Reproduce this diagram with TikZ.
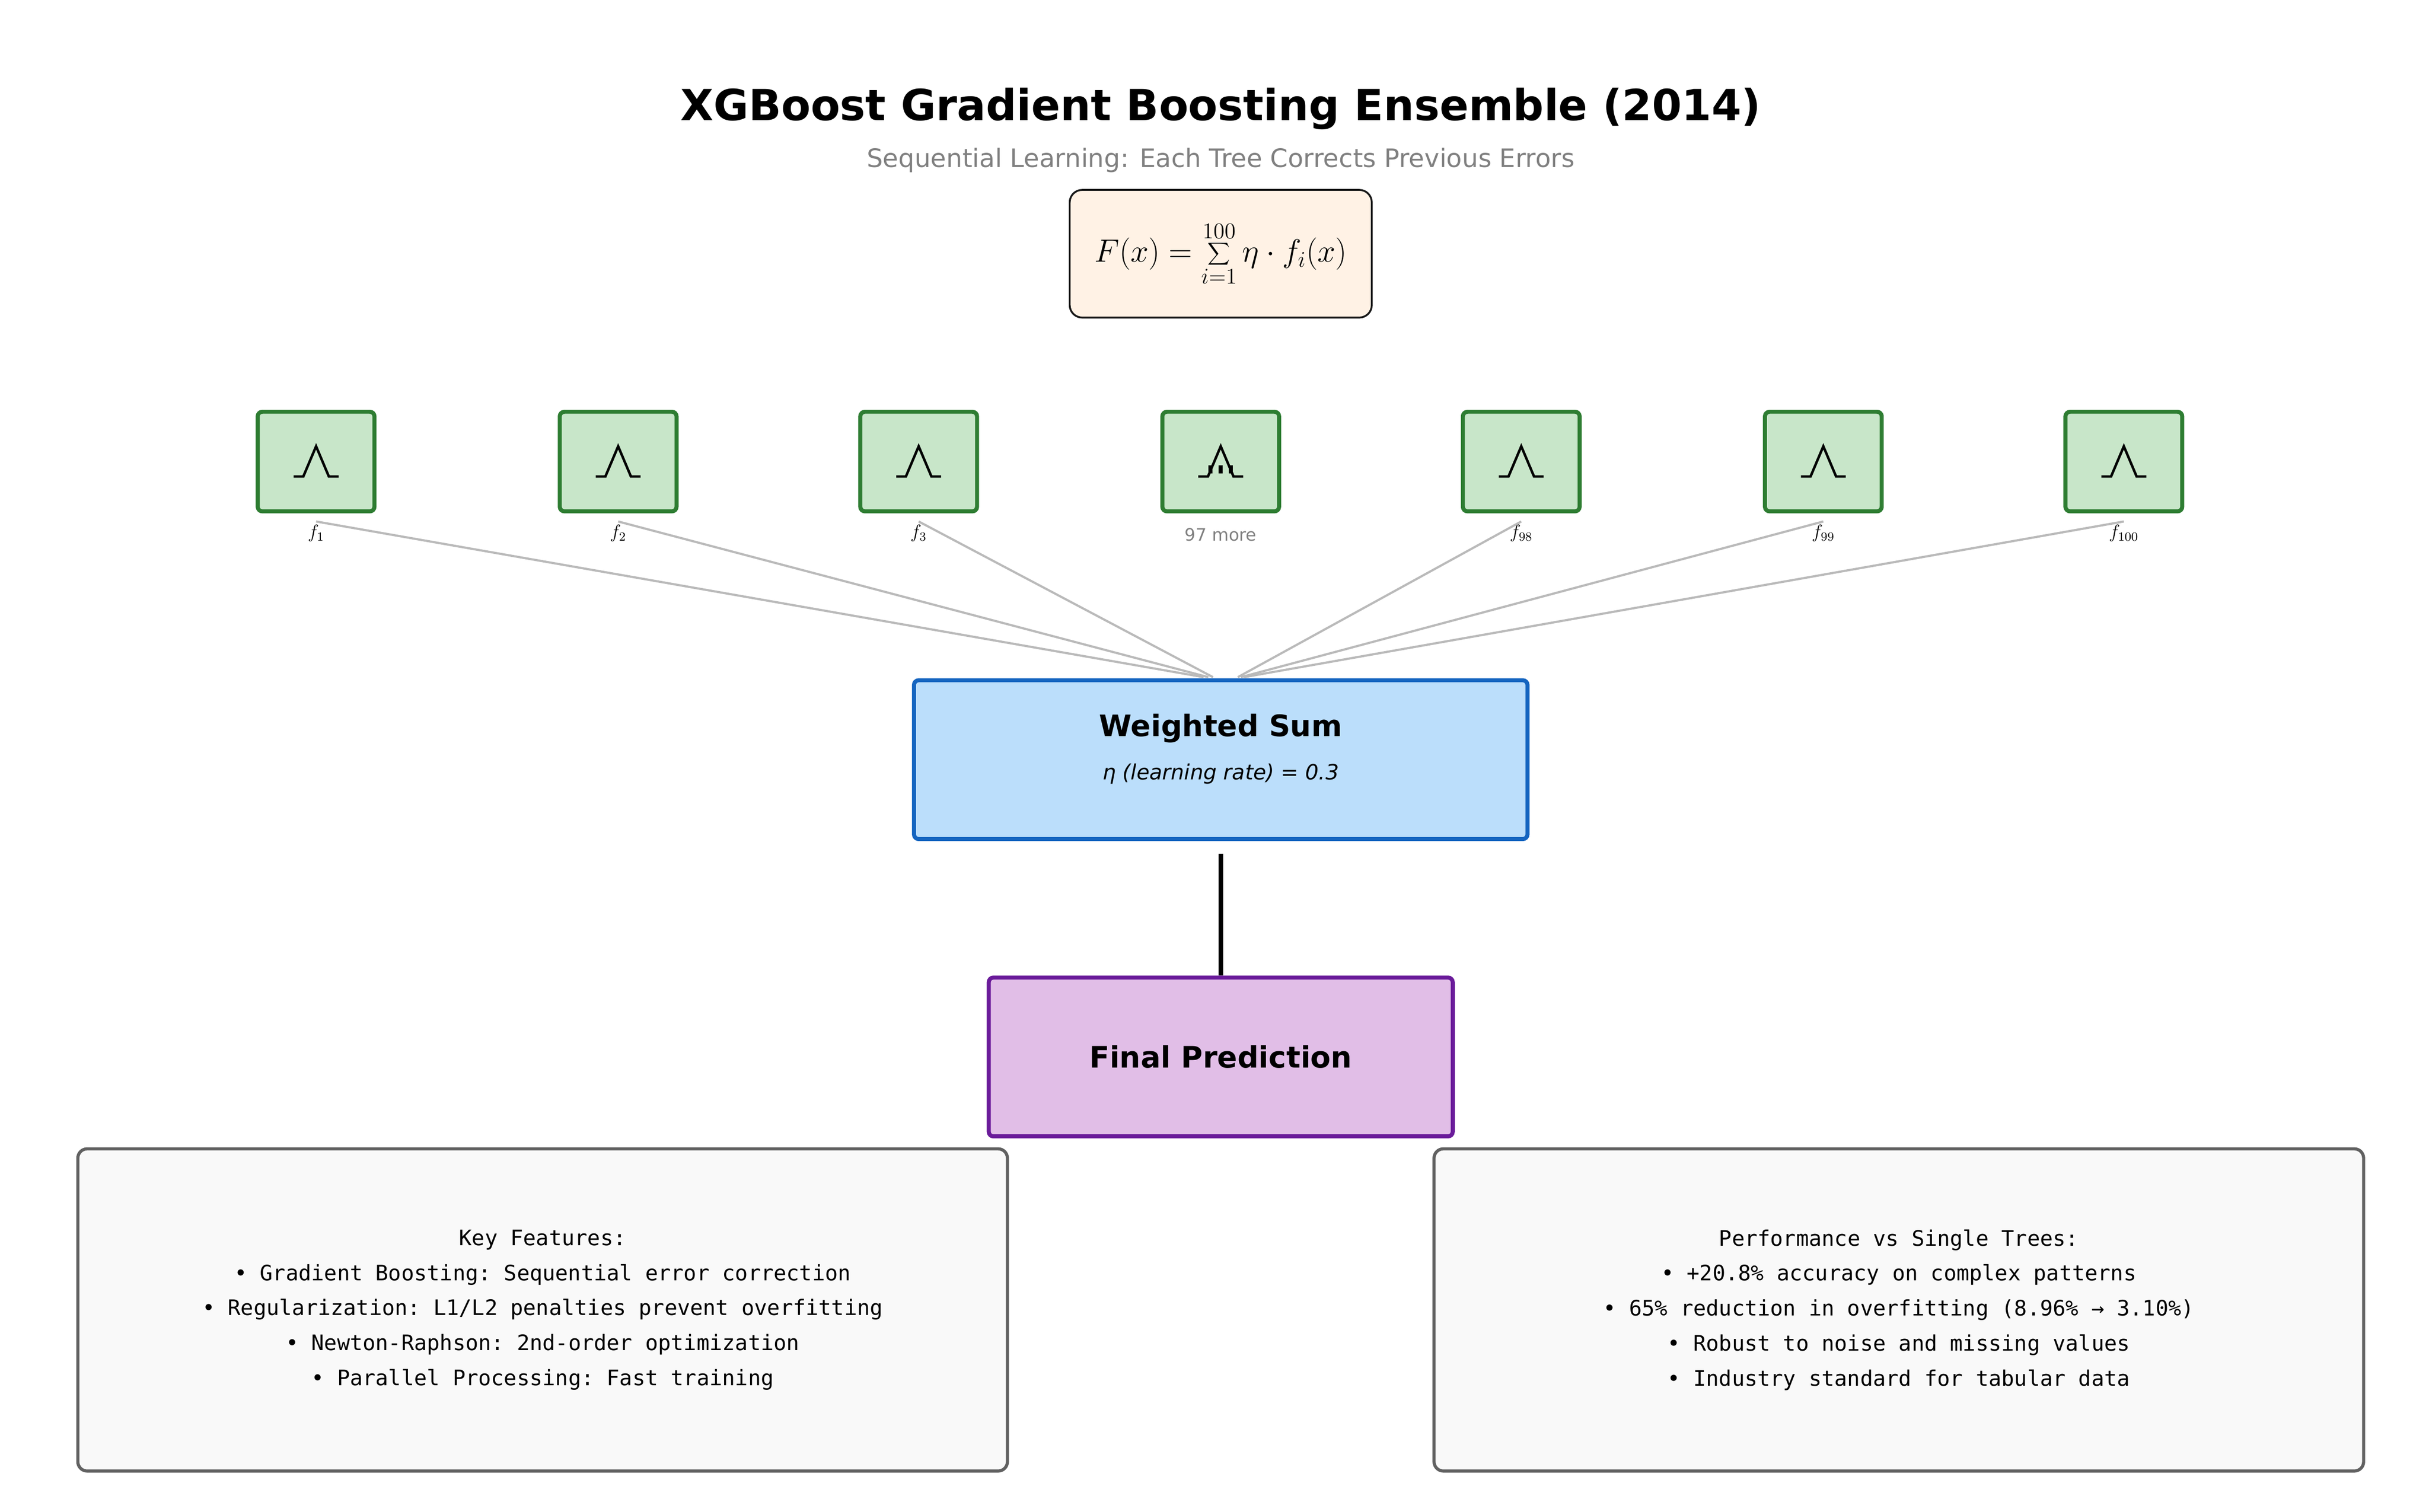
\documentclass[tikz,border=0pt]{standalone}
\usepackage{fontspec}
\setmainfont{DejaVu Sans}
\setmonofont{DejaVu Sans Mono}
\begin{document}
\begin{tikzpicture}[x=1pt,y=-1pt,
  lbl/.style={font=\fontsize{12}{13}\selectfont},
  conn/.style={draw=black!27, line width=1.4pt},
  info/.style={draw=black!62, line width=2pt, fill=black!2.5, rounded corners=6pt, minimum width=597pt, minimum height=207pt, align=center, font=\ttfamily\fontsize{13.7}{22.5}\selectfont},
  icon/.style={line width=1.6pt}]
\useasboundingbox (0,0) rectangle (1560,971.3);
\definecolor{tg}{HTML}{C8E6C9}\definecolor{tb}{HTML}{2E7D32}
\tikzset{tree/.style={draw=tb, fill=tg, line width=2.6pt, rounded corners=3pt, minimum width=75pt, minimum height=64pt}}
\node (title) at (784,70) {\fontsize{27.5}{32}\selectfont\bfseries XGBoost Gradient Boosting Ensemble (2014)};
\node[text=black!50] (sub) at (784,103) {\fontsize{16.3}{18}\selectfont Sequential Learning: Each Tree Corrects Previous Errors};
\node[draw=black!90, line width=1.2pt, fill=orange!10!white, rounded corners=8pt, minimum width=194pt, minimum height=82pt] (formula) at (784,163) {\fontsize{20}{24}\selectfont $\displaystyle F(x)=\sum\limits_{i=1}^{100}\eta\cdot f_i(x)$};
\foreach \n/\x/\t in {1/203/$f_{1}$, 2/397/$f_{2}$, 3/590/$f_{3}$, 4/784/{}, 5/977/$f_{98}$, 6/1171/$f_{99}$, 7/1364/$f_{100}$}{
  \node[tree] (t\n) at (\x,296.5) {};
  \draw[icon] ([xshift=-14.4pt,yshift=-9.6pt]t\n.center) -- ++(6.2,0) -- ([yshift=9.8pt]t\n.center) -- ([xshift=8.2pt,yshift=-9.6pt]t\n.center) -- ++(6.2,0);
  \node[lbl, anchor=north, inner sep=0pt] (l\n) at (\x,337) {\t};
}
\fill ([xshift=-7.8pt,yshift=-2.5pt]t4.center) rectangle ++(2.6,5);
\fill ([xshift=-1.3pt,yshift=-2.5pt]t4.center) rectangle ++(2.6,5);
\fill ([xshift=5.2pt,yshift=-2.5pt]t4.center) rectangle ++(2.6,5);
\node[text=black!50, font=\fontsize{11}{12}\selectfont, anchor=north, inner sep=0pt] at (784,339) {97 more};
\definecolor{wb}{HTML}{BBDEFB}\definecolor{wd}{HTML}{1565C0}
\node[draw=wd, fill=wb, line width=2.6pt, rounded corners=3pt, minimum width=394pt, minimum height=102pt] (ws) at (784,488) {};
\node at (784,468) {\fontsize{19}{22}\selectfont\bfseries Weighted Sum};
\node at (784,497) {\fontsize{13.5}{15}\selectfont\itshape η (learning rate) = 0.3};
\foreach \n/\e in {1/773,2/776,3/779,5/795,6/797,7/799}{
  \coordinate (e\n) at (\e,435);
  \coordinate (s\n) at ([yshift=2pt]l\n.north);
  \draw[conn] (s\n) -- (e\n);
}
\definecolor{pf}{HTML}{E1BEE7}\definecolor{pd}{HTML}{6A1B9A}
\node[draw=pd, fill=pf, line width=2.6pt, rounded corners=3pt, minimum width=298pt, minimum height=102pt, font=\fontsize{19}{22}\selectfont\bfseries] (fp) at (784,679) {Final Prediction};
\draw[line width=3pt] ([yshift=-8pt]ws.south) -- (fp.north);
\node[info] (k) at (348.5,841.5) {Key Features:\\• Gradient Boosting: Sequential error correction\\• Regularization: L1/L2 penalties prevent overfitting\\• Newton-Raphson: 2nd-order optimization\\• Parallel Processing: Fast training};
\node[info] (p) at (1219.5,841.5) {Performance vs Single Trees:\\• +20.8\% accuracy on complex patterns\\• 65\% reduction in overfitting (8.96\% → 3.10\%)\\• Robust to noise and missing values\\• Industry standard for tabular data};
\end{tikzpicture}
\end{document}
